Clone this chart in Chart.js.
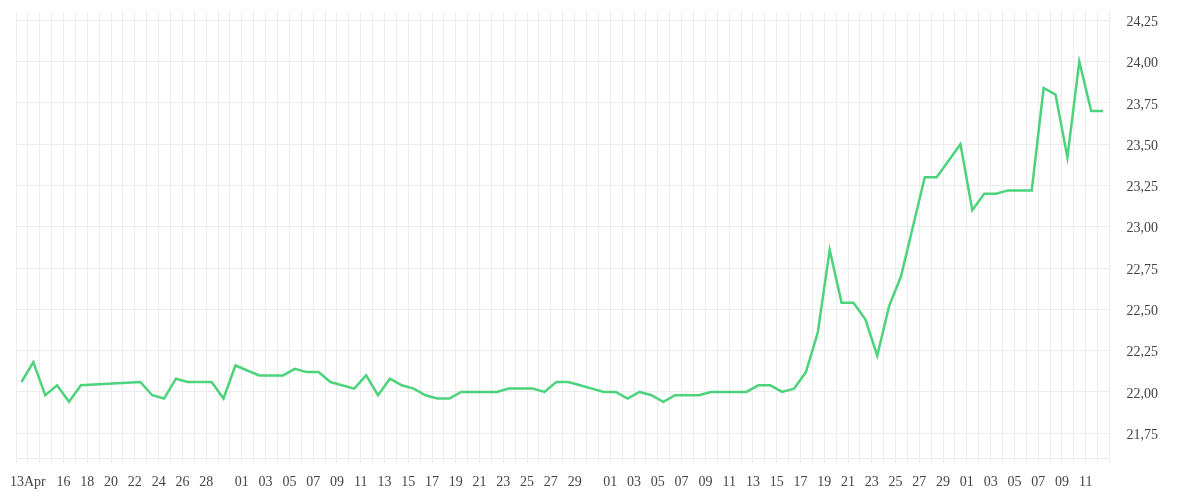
<!DOCTYPE html>
<html>
<head>
<meta charset="utf-8">
<script src="https://cdn.jsdelivr.net/npm/chart.js@4"></script>
<style>
  html, body { margin: 0; padding: 0; background: #fff; }
  #wrap { width: 1200px; height: 500px; }
</style>
</head>
<body>
<div id="wrap"><canvas id="rateChart"></canvas></div>
<script>
// First day on the axis and the last one (axis ends at its midnight)
const axisStart = '2025-04-12';
const axisEnd = '2025-07-13';

// Daily values (days with no value are simply left out)
const dates = [
  '2025-04-12', '2025-04-13', '2025-04-14', '2025-04-15', '2025-04-16', '2025-04-17',
  '2025-04-22', '2025-04-23', '2025-04-24', '2025-04-25', '2025-04-26', '2025-04-27',
  '2025-04-28', '2025-04-29', '2025-04-30',
  '2025-05-02', '2025-05-03', '2025-05-04', '2025-05-05', '2025-05-06', '2025-05-07',
  '2025-05-08', '2025-05-10', '2025-05-11', '2025-05-12', '2025-05-13', '2025-05-14',
  '2025-05-15', '2025-05-16', '2025-05-17', '2025-05-18', '2025-05-19', '2025-05-20',
  '2025-05-21', '2025-05-22', '2025-05-23', '2025-05-24', '2025-05-25', '2025-05-26',
  '2025-05-27', '2025-05-28', '2025-05-29', '2025-05-30', '2025-05-31',
  '2025-06-01', '2025-06-02', '2025-06-03', '2025-06-04', '2025-06-05', '2025-06-06',
  '2025-06-07', '2025-06-08', '2025-06-09', '2025-06-10', '2025-06-11', '2025-06-12',
  '2025-06-13', '2025-06-14', '2025-06-15', '2025-06-16', '2025-06-17', '2025-06-18',
  '2025-06-19', '2025-06-20', '2025-06-21', '2025-06-22', '2025-06-23', '2025-06-24',
  '2025-06-25', '2025-06-26', '2025-06-27', '2025-06-28', '2025-06-29', '2025-06-30',
  '2025-07-01', '2025-07-02', '2025-07-03', '2025-07-04', '2025-07-05', '2025-07-06',
  '2025-07-07', '2025-07-08', '2025-07-09', '2025-07-10', '2025-07-11', '2025-07-12'
];
const values = [
  22.06, 22.18, 21.98, 22.04, 21.94, 22.04,
  22.06, 21.98, 21.96, 22.08, 22.06, 22.06,
  22.06, 21.96, 22.16,
  22.10, 22.10, 22.10, 22.14, 22.12, 22.12,
  22.06, 22.02, 22.10, 21.98, 22.08, 22.04,
  22.02, 21.98, 21.96, 21.96, 22.00, 22.00,
  22.00, 22.00, 22.02, 22.02, 22.02, 22.00,
  22.06, 22.06, 22.04, 22.02, 22.00,
  22.00, 21.96, 22.00, 21.98, 21.94, 21.98,
  21.98, 21.98, 22.00, 22.00, 22.00, 22.00,
  22.04, 22.04, 22.00, 22.02, 22.12, 22.36,
  22.86, 22.54, 22.54, 22.44, 22.22, 22.52,
  22.70, 23.00, 23.30, 23.30, 23.40, 23.50,
  23.10, 23.20, 23.20, 23.22, 23.22, 23.22,
  23.84, 23.80, 23.42, 24.00, 23.70, 23.70
];

// Bottom axis labels
const tickDates = [
  '2025-04-13', '2025-04-16', '2025-04-18', '2025-04-20', '2025-04-22', '2025-04-24',
  '2025-04-26', '2025-04-28',
  '2025-05-01', '2025-05-03', '2025-05-05', '2025-05-07', '2025-05-09', '2025-05-11',
  '2025-05-13', '2025-05-15', '2025-05-17', '2025-05-19', '2025-05-21', '2025-05-23',
  '2025-05-25', '2025-05-27', '2025-05-29',
  '2025-06-01', '2025-06-03', '2025-06-05', '2025-06-07', '2025-06-09', '2025-06-11',
  '2025-06-13', '2025-06-15', '2025-06-17', '2025-06-19', '2025-06-21', '2025-06-23',
  '2025-06-25', '2025-06-27', '2025-06-29',
  '2025-07-01', '2025-07-03', '2025-07-05', '2025-07-07', '2025-07-09', '2025-07-11'
];
const tickTexts = [
  '13Apr', '16', '18', '20', '22', '24', '26', '28',
  '01', '03', '05', '07', '09', '11', '13', '15', '17', '19', '21', '23', '25', '27', '29',
  '01', '03', '05', '07', '09', '11', '13', '15', '17', '19', '21', '23', '25', '27', '29',
  '01', '03', '05', '07', '09', '11'
];

// Value axis
const yMin = 21.6;
const yMax = 24.3;
const yStep = 0.25;

// quotes are taken late in the morning
const quoteHour = 11;

const DAY = 24 * 3600 * 1000;
function dayIndex(d) {
    return Math.round((Date.parse(d) - Date.parse(axisStart)) / DAY);
}

const points = dates.map((d, i) => ({ x: dayIndex(d) + quoteHour / 24, y: values[i] }));

const tickLookup = {};
tickDates.forEach((d, i) => { tickLookup[dayIndex(d)] = tickTexts[i]; });

const gridColor = '#ececec';
const labelFont = { family: '"Liberation Serif", "DejaVu Serif", serif', size: 14 };

// stop the axes from reserving extra room for half a label at the ends
function noEdgePadding(scale) {
    scale.paddingTop = 0;
    scale.paddingBottom = 0;
    scale.paddingLeft = 0;
    scale.paddingRight = 0;
}

const ctx = document.getElementById('rateChart').getContext('2d');
const rateChart = new Chart(ctx, {
    type: 'line',
    data: {
        datasets: [{
            data: points,
            borderColor: '#4cd37b',
            borderWidth: 2.5,
            pointRadius: 0,
            pointHoverRadius: 0,
            fill: false,
            tension: 0
        }]
    },
    options: {
        responsive: true,
        maintainAspectRatio: false,
        animation: false,
        layout: { padding: { left: 16, top: 12, right: 25, bottom: 0 } },
        scales: {
            x: {
                type: 'linear',
                min: 0,
                max: dayIndex(axisEnd),
                afterFit: scale => {
                    noEdgePadding(scale);
                    scale.height = 42;
                },
                grid: { color: gridColor, tickLength: 5, tickColor: gridColor },
                border: { color: gridColor },
                ticks: {
                    stepSize: 1,
                    autoSkip: false,
                    maxRotation: 0,
                    padding: 11,
                    color: '#444',
                    font: labelFont,
                    callback: value => tickLookup[value] || ''
                }
            },
            y: {
                position: 'right',
                min: yMin,
                max: yMax,
                afterFit: noEdgePadding,
                grid: { color: gridColor, drawTicks: false },
                border: { color: gridColor },
                ticks: {
                    stepSize: yStep,
                    includeBounds: false,
                    padding: 17,
                    labelOffset: 2,
                    color: '#444',
                    font: labelFont,
                    callback: value => value.toFixed(2).replace('.', ',')
                }
            }
        },
        plugins: {
            legend: { display: false },
            tooltip: { enabled: false }
        }
    }
});
</script>
</body>
</html>
